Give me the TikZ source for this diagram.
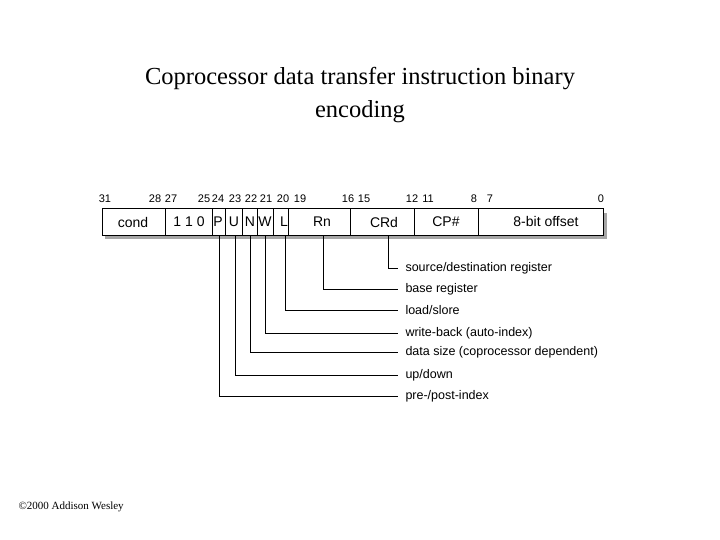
\documentclass[tikz,border=0pt]{standalone}
\usepackage{fontspec}
\setmainfont{Liberation Serif}
\newfontfamily\arial{Liberation Sans}
\tikzset{fld/.style={font=\arial\fontsize{14}{14}\selectfont,inner sep=0pt},
  bitno/.style={font=\arial\fontsize{11}{11}\selectfont,inner sep=0pt},
  lbl/.style={font=\arial\fontsize{12.5}{13}\selectfont,anchor=west,inner sep=0pt}}
\begin{document}
\begin{tikzpicture}[x=1pt,y=-1pt,line width=1pt]
   \useasboundingbox (0,0) rectangle (720,540);
   % title
   \node[font=\fontsize{24.5}{33}\selectfont,align=center] (title) at (360,95)
     {Coprocessor data transfer instruction binary\\encoding};
   % register box with shadow
   \fill[black!35] (105,213) rectangle (607,239);
   \filldraw[fill=white,draw=black] (102,209) rectangle (603,235);
   \foreach \xx in {165,212,225,242,257,273,288,350,414,478}
     \draw (\xx,209) -- (\xx,235);
   \node[fld] (cond) at (133,222) {cond};
   \node[fld] (op)   at (189,222) {1 1 0};
   \node[fld] (P)    at (218,222) {P};
   \node[fld] (U)    at (234,222) {U};
   \node[fld] (N)    at (250,222) {N};
   \node[fld] (W)    at (265,222) {W};
   \node[fld] (L)    at (284,222) {L};
   \node[fld] (Rn)   at (322,222) {Rn};
   \node[fld] (CRd)  at (384,222) {CRd};
   \node[fld] (CP)   at (446,222) {CP\#};
   \node[fld] (off)  at (546,221) {8-bit offset};
   % bit numbers
   \foreach \bx/\bn in {105/31,155/28,171/27,204/25,218/24,235/23,251/22,266/21,283/20,300/19,
                        348/16,364/15,412/12,428/11,474/8,490/7,601/0}
     \node[bitno] at (\bx,199) {\bn};
   % field descriptions
   \foreach \lx/\ly/\nm/\tx in {388/268/srd/source\slash destination register,
       323/289/base/base register,285/310/ls/load\slash slore,
       265/333/wb/write-back (auto-index),250/352/ds/data size (coprocessor dependent),
       235/375/ud/up\slash down,219/396/pp/pre-\slash post-index}{
     \node[lbl] (\nm) at (405,\ly) {\tx};
     \draw (\lx,235) -- (\lx,\ly) -- (398,\ly);
   }
   \node[anchor=west,inner sep=0pt,font=\fontsize{11}{11}\selectfont] (copy) at (18,507)
     {\textcopyright 2000 Addison Wesley};
\end{tikzpicture}
\end{document}
